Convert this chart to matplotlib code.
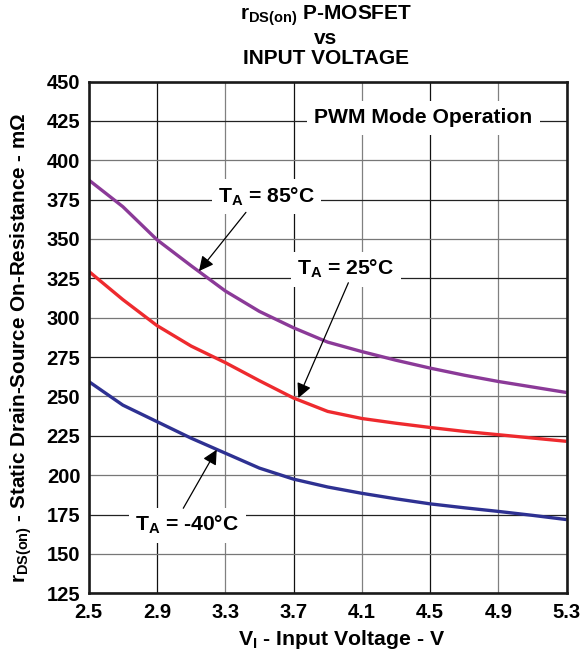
import matplotlib
matplotlib.use("Agg")
import matplotlib.pyplot as plt

plt.rcParams['font.family'] = ['Liberation Sans', 'DejaVu Sans']
plt.rcParams['font.weight'] = 'bold'
plt.rcParams['mathtext.fontset'] = 'custom'
plt.rcParams['mathtext.rm'] = 'Liberation Sans:bold'
plt.rcParams['mathtext.bf'] = 'Liberation Sans:bold'
plt.rcParams['mathtext.it'] = 'Liberation Sans:bold'
plt.rcParams['mathtext.default'] = 'bf'

# ---- data ----
v_in = [2.5, 2.7, 2.9, 3.1, 3.3, 3.5, 3.7, 3.9, 4.1, 4.3, 4.5, 4.7, 4.9, 5.1, 5.3]
r_85 = [387.5, 370.5, 349.5, 333.0, 317.0, 304.0, 293.6, 284.5, 278.5, 273.0, 268.0, 263.5, 259.5, 256.0, 252.5]
r_25 = [329.5, 311.5, 295.0, 282.0, 271.5, 260.0, 249.0, 240.5, 236.0, 233.0, 230.3, 227.8, 225.7, 223.6, 221.5]
r_m40 = [259.5, 244.5, 234.0, 223.5, 214.0, 204.5, 197.5, 192.5, 188.5, 185.0, 181.8, 179.3, 177.0, 174.5, 171.8]

x_ticks = [2.5, 2.9, 3.3, 3.7, 4.1, 4.5, 4.9, 5.3]
y_ticks = [125, 150, 175, 200, 225, 250, 275, 300, 325, 350, 375, 400, 425, 450]

title_lines = [r'$r_{DS(on)}$ P-MOSFET', 'vs', 'INPUT VOLTAGE']
x_label = r'V$_{I}$ - Input Voltage - V'
y_label = r'$r_{DS(on)}$ - Static Drain-Source On-Resistance - mΩ'
labels = [r'T$_{A}$ = 85°C', r'T$_{A}$ = 25°C', r'T$_{A}$ = -40°C']
note = 'PWM Mode Operation'

c_85 = '#8B3A98'
c_25 = '#EE2A2E'
c_m40 = '#2E3192'

fig = plt.figure(figsize=(5.82, 6.55), dpi=100)
ax = fig.add_axes([88.7/582, 1-593.3/655, (566.7-88.7)/582, (593.3-81.5)/655])

ax.plot(v_in, r_85, color=c_85, lw=2.4, zorder=3, solid_capstyle='butt')
ax.plot(v_in, r_25, color=c_25, lw=2.4, zorder=3, solid_capstyle='butt')
ax.plot(v_in, r_m40, color=c_m40, lw=2.4, zorder=3, solid_capstyle='butt')

ax.set_xlim(2.5, 5.3)
ax.set_ylim(125, 450)
ax.set_xticks(x_ticks)
ax.set_yticks(y_ticks)
ax.set_xticklabels([f'{t:.1f}' for t in x_ticks])
ax.set_yticklabels([str(t) for t in y_ticks])
ax.tick_params(axis='both', length=0, labelsize=14.5)
ax.tick_params(axis='x', pad=7)
ax.tick_params(axis='y', pad=6)
for lab in ax.get_xticklabels() + ax.get_yticklabels():
    lab.set_fontweight('bold')

ax.grid(True, color='#333333', lw=0.9, zorder=1)
for i, gl in enumerate(ax.get_xgridlines()):
    gl.set_color('#111111' if i % 2 == 1 else '#808080')
for i, gl in enumerate(ax.get_ygridlines()):
    gl.set_color('#222222' if i % 2 == 0 else '#777777')
ax.set_axisbelow(True)
for s in ax.spines.values():
    s.set_linewidth(1.9)
    s.set_color('#1a1a1a')
    s.set_zorder(5)

box = dict(boxstyle='square,pad=0.3', fc='white', ec='none')
fs = 15.2
ax.text(3.542, 373.0, labels[0], ha='center', va='baseline', fontsize=fs, fontweight='bold', bbox=box, zorder=4)
ax.text(4.006, 327.0, labels[1], ha='center', va='baseline', fontsize=fs, fontweight='bold', bbox=box, zorder=4)
ax.text(3.077, 164.5, labels[2], ha='center', va='baseline', fontsize=fs, fontweight='bold', bbox=box, zorder=4)
ax.text(4.46, 423.5, note, ha='center', va='baseline', fontsize=fs, fontweight='bold',
        bbox=dict(boxstyle='square,pad=0.35', fc='white', ec='none'), zorder=4)

arr = dict(arrowstyle='-|>', color='black', lw=0.9, mutation_scale=22, shrinkA=0, shrinkB=0)
ax.annotate('', xy=(3.146, 329.6), xytext=(3.421, 366.9), arrowprops=arr, zorder=4)
ax.annotate('', xy=(3.728, 249.0), xytext=(4.021, 322.2), arrowprops=arr, zorder=4)
ax.annotate('', xy=(3.25, 216.2), xytext=(3.054, 179.0), arrowprops=arr, zorder=4)

tx = 325.8 / 582
fig.text(tx, 1-64/655, '\n'.join(title_lines), ha='center', va='baseline', multialignment='center',
         linespacing=1.06, fontsize=15, fontweight='bold')

fig.text(342/582, 1-645/655, x_label, ha='center', va='baseline', fontsize=15.3, fontweight='bold')
fig.text(21/582, 1-348/655, y_label, ha='center', va='center', rotation=90, fontsize=14.9, fontweight='bold')

fig.savefig('out.png', dpi=100, facecolor='white')
